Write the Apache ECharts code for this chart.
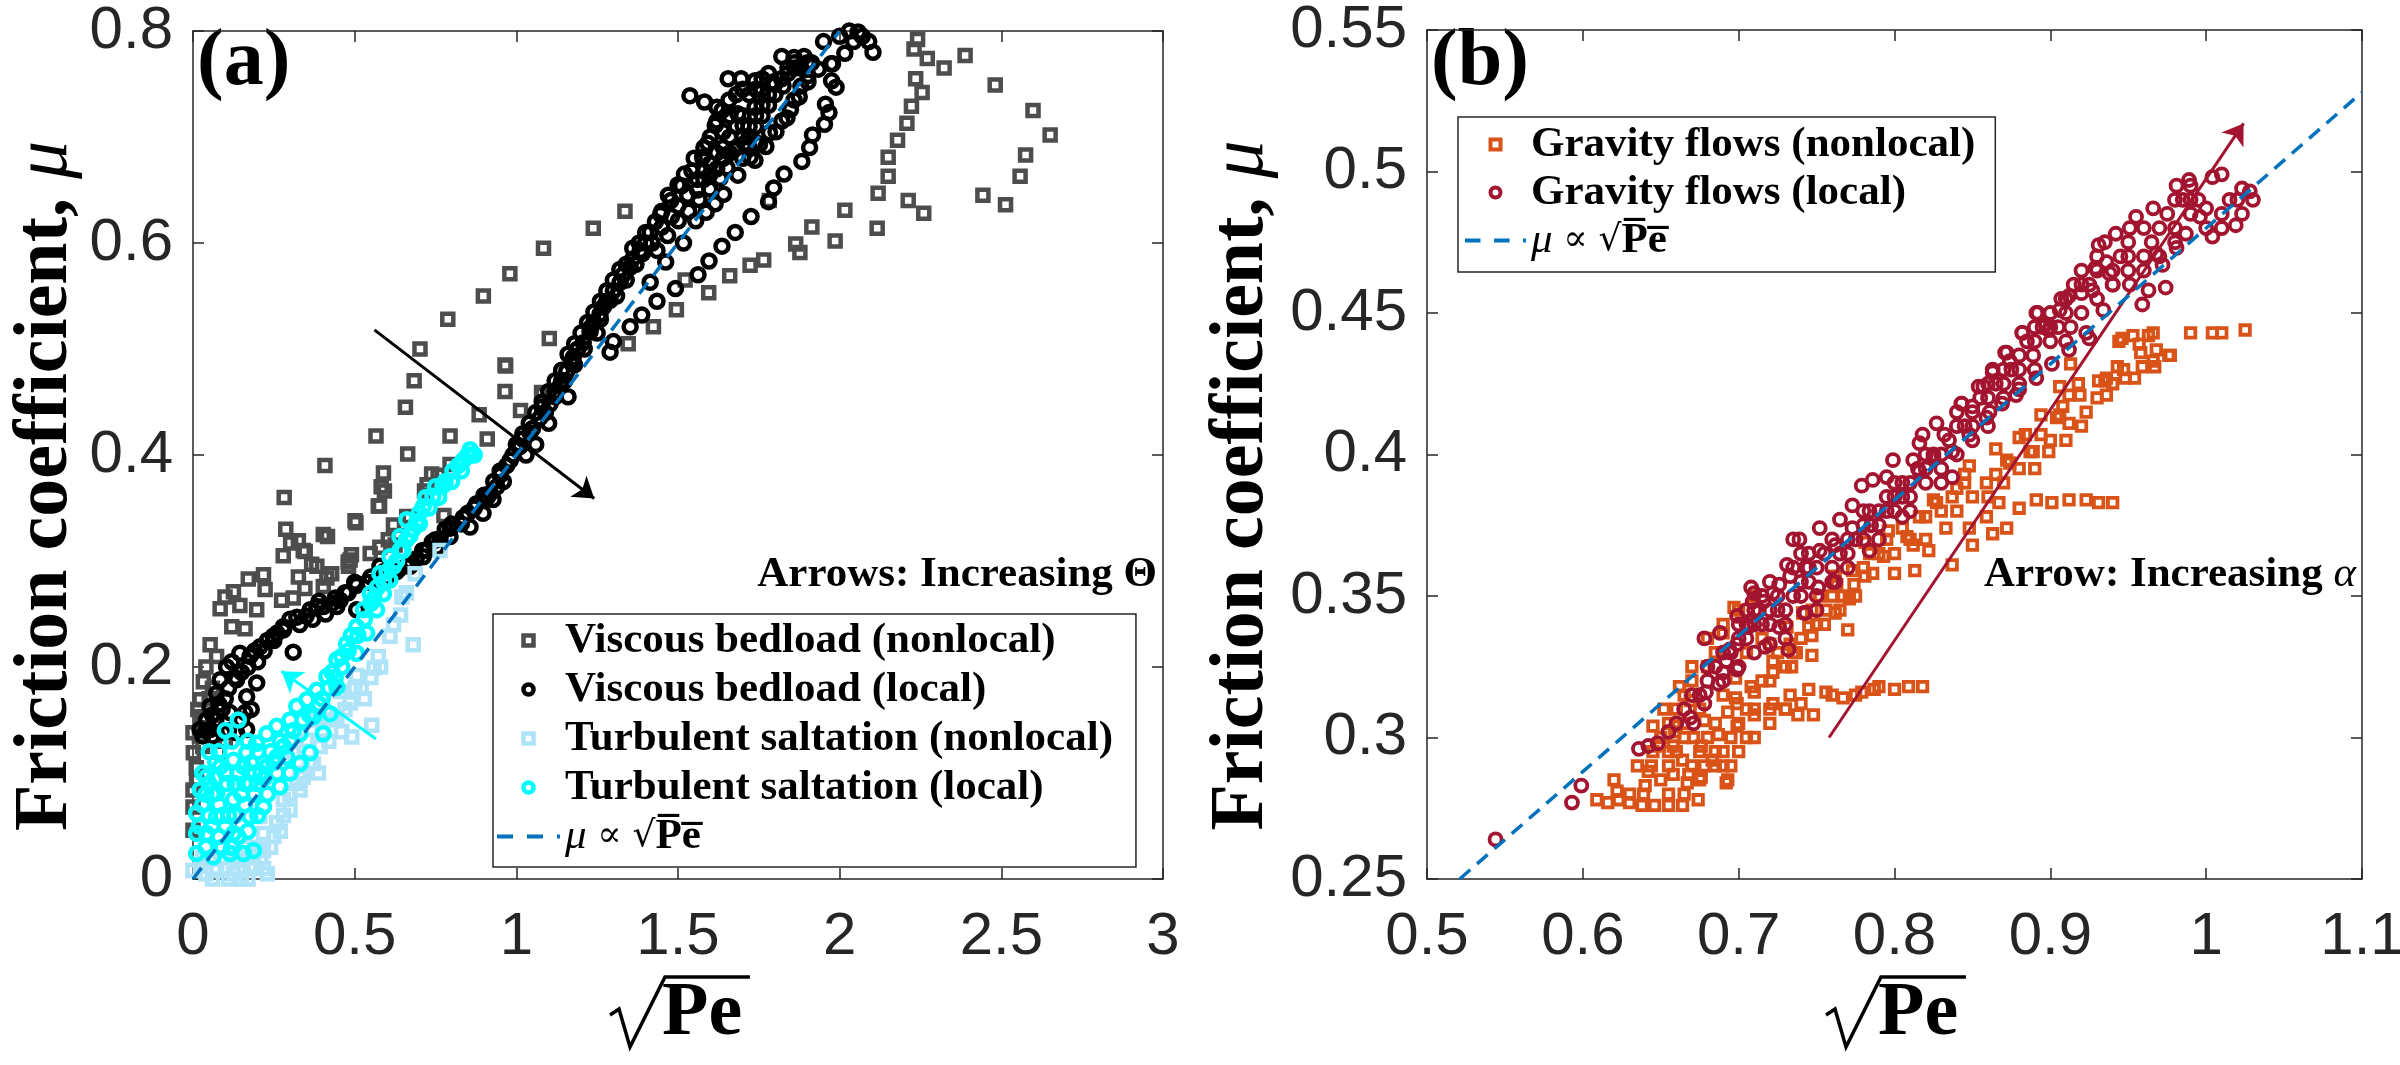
<!DOCTYPE html>
<html>
<head>
<meta charset="utf-8">
<title>Friction coefficient vs sqrt(Pe)</title>
<script src="https://cdn.jsdelivr.net/npm/echarts@6.0.0/dist/echarts.min.js"></script>
<style>
  html, body { margin: 0; padding: 0; background: #fff; }
  #chart { width: 2400px; height: 1065px; }
</style>
</head>
<body>
<div id="chart"></div>
<script>
// ---- panel (a): viscous bedload / turbulent saltation ----
var vbNonlocal = [
  [1.336,0.630],[1.238,0.614],[1.084,0.595],[0.980,0.571],[0.898,0.550],[0.788,0.528],[0.702,0.500],[0.684,0.470],
  [0.657,0.445],[0.566,0.418],[0.664,0.401],[0.589,0.383],[0.592,0.366],[0.573,0.352],[0.408,0.390],[0.282,0.360],
  [0.287,0.330],[0.326,0.319],[0.403,0.325],[0.504,0.336],[1.102,0.510],[0.967,0.484],[0.965,0.460],[1.013,0.442],
  [0.885,0.438],[0.910,0.415],[0.795,0.418],[1.080,0.457],[1.346,0.505],[0.738,0.382],[0.724,0.372],[0.795,0.391],
  [0.620,0.334],[0.669,0.341],[0.625,0.315],
  [2.241,0.792],[2.230,0.783],[2.271,0.774],[2.323,0.765],[2.388,0.777],[2.481,0.749],[2.598,0.725],[2.651,0.702],
  [2.575,0.683],[2.558,0.663],[2.443,0.645],[2.513,0.636],[2.235,0.755],[2.255,0.742],[2.222,0.729],[2.208,0.713],
  [2.179,0.697],[2.150,0.681],[2.150,0.663],[2.119,0.647],[2.212,0.640],[2.260,0.628],[2.116,0.614],[2.016,0.631],
  [1.914,0.615],[1.986,0.602],[1.864,0.599],[1.877,0.591],[1.765,0.584],[1.723,0.579],[1.660,0.569],[1.595,0.553],
  [1.522,0.565],[1.495,0.537],[1.424,0.521],[1.782,0.640],
  [0.341,0.310],[0.279,0.305],[0.367,0.297],[0.326,0.285],[0.346,0.274],[0.310,0.265],[0.171,0.283],[0.218,0.287],
  [0.223,0.273],[0.125,0.271],[0.099,0.266],[0.084,0.255],[0.145,0.258],[0.197,0.254],[0.274,0.263],[0.120,0.238],
  [0.161,0.236],[0.053,0.221],[0.073,0.210],[0.032,0.186],[0.022,0.169],[0.027,0.153],[0.001,0.119],[0.000,0.084],
  [0.000,0.068],[0.000,0.046],[0.414,0.284],[0.429,0.288],[0.481,0.295],[0.486,0.301],[0.548,0.307],[0.578,0.313],
  [0.604,0.320],[0.661,0.342],[0.403,0.276],[0.383,0.295],[0.073,0.144],[0.000,0.138],[0.011,0.093],
  [0.501,0.338],[0.582,0.370],[0.577,0.352],[0.776,0.343],[0.634,0.324],[0.416,0.323],[0.302,0.317],
  [0.347,0.309],[0.480,0.299],[0.490,0.306],[0.716,0.366],[0.758,0.381],[0.965,0.485],[1.078,0.459],
  [0.010,0.105],[0.030,0.125],[0.050,0.170],[0.040,0.200],[0.060,0.180],[0.020,0.135],[0.015,0.160],[0.080,0.120],[0.100,0.130]
];
var vbLocal = [
  [2.057,0.799],[2.043,0.790],[2.103,0.780],[2.016,0.779],[1.978,0.769],[1.975,0.753],[1.989,0.747],[1.956,0.731],
  [1.967,0.723],[1.953,0.712],[1.916,0.702],[1.907,0.690],[1.883,0.677],[1.828,0.665],[1.796,0.652],[1.780,0.639],
  [1.726,0.625],[1.677,0.610],[1.636,0.597],[1.596,0.583],[1.562,0.570],[1.492,0.557],[1.435,0.545],[1.388,0.532],
  [1.352,0.521],[1.300,0.507],[1.290,0.497],
  [1.414,0.563],[1.462,0.582],[1.517,0.600],[1.555,0.621],[1.587,0.629],[1.615,0.637],[1.641,0.646],[1.685,0.664],
  [1.723,0.681],[1.752,0.693],[1.783,0.704],[1.821,0.715],[1.848,0.726],[1.875,0.738],[1.902,0.752],[1.934,0.764],[1.973,0.769],
  [1.414,0.610],[1.446,0.627],[1.478,0.640],[1.511,0.654],[1.543,0.668],[1.576,0.681],[1.592,0.694],[1.615,0.711],
  [1.636,0.725],[1.658,0.735],[1.685,0.722],[1.701,0.711],[1.738,0.728],[1.760,0.745],[1.793,0.752],[1.825,0.748],
  [1.738,0.753],[1.695,0.755],[1.655,0.755],[1.537,0.739],[1.582,0.733],[1.620,0.728],[1.821,0.776],[1.859,0.775],
  [1.890,0.776],[1.913,0.770],[1.902,0.758],[1.880,0.748],[1.859,0.735],[1.837,0.718],[1.803,0.705],[1.772,0.691],
  [1.738,0.678],[1.706,0.694],[1.673,0.688],[1.652,0.671],[1.630,0.661],[1.598,0.651],[1.565,0.641],[1.533,0.630],
  [1.501,0.621],[1.468,0.607],[1.435,0.593],
  [1.383,0.593],[1.352,0.577],[1.321,0.563],[1.290,0.546],[1.259,0.533],[1.228,0.516],[1.207,0.506],[1.176,0.492],
  [1.156,0.479],[1.135,0.465],[1.104,0.448],[1.073,0.435],[1.042,0.421],[1.011,0.408],[0.981,0.395],[0.950,0.381],
  [0.919,0.364],[0.877,0.354],[0.836,0.341],[0.795,0.331],[0.764,0.321],[0.723,0.310],[1.060,0.410],[1.160,0.455],
  [1.100,0.430],[1.030,0.400],[0.960,0.375],
  [1.300,0.555],[1.330,0.570],[1.360,0.585],[1.270,0.540],[1.240,0.525],[1.190,0.500],[1.150,0.470],[1.120,0.455],
  [1.090,0.440],[1.400,0.600],[1.250,0.515],[1.180,0.485],[0.990,0.400],[0.900,0.362],[0.850,0.345],[0.800,0.335],
  [0.740,0.318],[0.690,0.302],[0.640,0.293],[0.600,0.285],[0.550,0.285],[0.500,0.280],[0.470,0.270],[0.430,0.260],
  [0.390,0.262],[0.350,0.248],[0.300,0.245],[0.260,0.232],[0.230,0.225],[0.190,0.215],[0.120,0.205],[0.090,0.160],[0.070,0.150],
  [0.928,0.358],[0.897,0.345],[0.857,0.332],[0.795,0.323],[0.754,0.313],[0.712,0.304],[0.671,0.295],[0.619,0.289],
  [0.568,0.282],[0.506,0.277],[0.455,0.263],[0.403,0.257],[0.362,0.254],[0.321,0.247],[0.279,0.238],[0.248,0.229],
  [0.207,0.219],[0.176,0.210],[0.145,0.213],[0.104,0.200],[0.084,0.188],[0.073,0.175],[0.053,0.163],[0.042,0.150],
  [0.022,0.141],[0.053,0.141],[0.093,0.138],[0.135,0.138],[0.166,0.141],[0.161,0.157],[0.114,0.157],[0.197,0.185],
  [0.166,0.172],[0.135,0.188],[0.310,0.214],[0.383,0.257],[0.445,0.257],[0.506,0.254],[0.578,0.295],
  [1.020,0.415],[1.050,0.425],[1.080,0.445],[1.120,0.460],[1.140,0.470],[1.170,0.487],[1.210,0.500],[1.230,0.520],
  [1.260,0.528],[1.280,0.545],[1.310,0.550],[1.340,0.565],[1.370,0.580],[1.390,0.590],[1.420,0.600],[1.450,0.615],
  [1.480,0.625],[1.500,0.635],[1.530,0.645],[1.560,0.660],[1.580,0.668],[1.600,0.675],[1.620,0.685],[1.640,0.690],
  [1.660,0.700],[1.680,0.710],[1.700,0.720],[1.720,0.700],[1.740,0.710],[1.760,0.720],[1.780,0.730],[1.800,0.740],
  [1.840,0.760],[1.860,0.765],[1.950,0.790],[2.000,0.795],[2.030,0.800],[2.070,0.795],[2.090,0.790],
  [0.940,0.370],[0.910,0.360],[0.870,0.350],[0.830,0.335],[0.780,0.330],[0.750,0.320],[0.710,0.310],[0.670,0.300],
  [0.630,0.290],[0.590,0.290],[0.540,0.280],[0.480,0.270],[0.440,0.265],[0.410,0.250],[0.370,0.245],[0.330,0.240],
  [0.280,0.235],[0.250,0.225],[0.220,0.215],[0.200,0.205],[0.170,0.200],[0.150,0.195],[0.130,0.190],[0.110,0.180],
  [0.100,0.170],[0.080,0.165],[0.060,0.155],[0.040,0.140],[0.030,0.135],[0.060,0.135],[0.110,0.140],[0.150,0.150],[0.180,0.160],
  [1.560,0.650],[1.580,0.660],[1.600,0.665],[1.620,0.670],[1.640,0.680],[1.660,0.685],[1.680,0.690],[1.700,0.700],
  [1.720,0.710],[1.740,0.720],[1.760,0.730],[1.780,0.740],[1.800,0.750],[1.820,0.755],[1.840,0.765],[1.860,0.770],
  [1.880,0.765],[1.900,0.770],[1.600,0.700],[1.620,0.715],[1.640,0.705],[1.660,0.720],[1.680,0.740],[1.700,0.745],
  [1.720,0.740],[1.740,0.745],[1.760,0.755],[1.780,0.760],[1.700,0.680],[1.720,0.690],[1.740,0.695],[1.580,0.690],
  [1.550,0.680],[1.520,0.665],[1.500,0.655],[1.470,0.645],[1.450,0.630],[1.430,0.620],[1.400,0.610],[1.380,0.600],
  [1.360,0.595],[1.340,0.580],[1.320,0.575],[1.300,0.565],[1.280,0.555],[1.260,0.545],[1.240,0.535],[1.220,0.525],
  [1.200,0.515],[1.180,0.505],[1.160,0.495],[1.140,0.480],[1.120,0.470],[1.100,0.460],[1.080,0.450],[1.060,0.440],
  [1.040,0.430],[1.020,0.420],[1.000,0.410],[0.970,0.390],[0.950,0.385],[0.930,0.375]
];
var tsNonlocal = [
  [0.764,0.310],[0.687,0.288],[0.646,0.266],[0.642,0.249],[0.609,0.229],[0.681,0.221],[0.573,0.210],[0.560,0.199],
  [0.506,0.192],[0.501,0.180],[0.455,0.177],[0.486,0.166],[0.445,0.153],[0.553,0.145],[0.460,0.139],[0.491,0.134],
  [0.383,0.150],[0.393,0.125],[0.372,0.109],[0.388,0.100],[0.331,0.084],[0.300,0.065],[0.259,0.053],[0.218,0.043],
  [0.218,0.027],[0.218,0.010],[0.176,0.012],[0.125,0.005],[0.073,0.008],[0.022,0.012],[0.000,0.008],[0.145,0.018],
  [0.187,0.024],[0.207,0.059],[0.279,0.075],[0.341,0.096],[0.310,0.119],[0.352,0.131],[0.050,0.020],[0.100,0.010],
  [0.150,0.000],[0.200,0.030],[0.230,0.005],[0.250,0.040],[0.280,0.060],[0.160,0.030],[0.120,0.025],[0.040,0.005],
  [0.330,0.100],[0.420,0.130],[0.530,0.170],[0.580,0.200],
  [0.060,0.000],[0.090,0.020],[0.110,0.000],[0.130,0.020],[0.170,0.000],[0.190,0.010],[0.210,0.020],[0.030,0.020],
  [0.240,0.030],[0.270,0.045],[0.300,0.080],[0.320,0.090],[0.360,0.110],[0.400,0.140],[0.430,0.150],[0.470,0.160],
  [0.520,0.180],[0.550,0.190],[0.620,0.240],[0.660,0.270]
];
var tsLocal = [
  [0.857,0.405],[0.836,0.395],[0.804,0.385],[0.773,0.371],[0.742,0.361],[0.712,0.351],[0.692,0.337],[0.671,0.324],
  [0.650,0.310],[0.661,0.339],[0.640,0.323],[0.609,0.304],[0.578,0.288],[0.548,0.269],[0.527,0.254],[0.506,0.238],
  [0.475,0.222],[0.445,0.207],[0.414,0.191],[0.383,0.178],[0.352,0.169],[0.321,0.163],[0.300,0.150],[0.259,0.144],
  [0.228,0.137],[0.197,0.128],[0.166,0.119],[0.125,0.112],[0.084,0.106],[0.042,0.096],[0.022,0.084],[0.011,0.062],
  [0.011,0.043],[0.011,0.024],[0.063,0.021],[0.114,0.024],[0.156,0.024],[0.187,0.027],[0.218,0.068],[0.269,0.087],
  [0.300,0.100],[0.331,0.109],[0.362,0.119],[0.403,0.137],[0.424,0.156],[0.445,0.181],[0.506,0.213],[0.537,0.232],
  [0.568,0.254],[0.589,0.269],[0.609,0.282],[0.073,0.059],[0.125,0.075],[0.176,0.090],[0.125,0.043],[0.073,0.081],
  [0.176,0.059],[0.042,0.043],[0.228,0.106],[0.156,0.106],[0.104,0.090],[0.259,0.115],[0.331,0.137],[0.372,0.153],
  [0.300,0.131],[0.700,0.345],[0.720,0.360],[0.750,0.370],[0.780,0.375],[0.820,0.390],[0.850,0.400],[0.870,0.400],
  [0.630,0.300],[0.600,0.290],[0.550,0.260],[0.490,0.230],[0.460,0.210],[0.430,0.195],[0.400,0.170],[0.050,0.120],
  [0.100,0.140],[0.140,0.150],[0.080,0.120],[0.030,0.070],[0.060,0.050],[0.090,0.030],[0.200,0.090],[0.240,0.120],[0.270,0.130],
  [0.860,0.400],[0.830,0.385],[0.800,0.375],[0.760,0.360],[0.730,0.350],[0.700,0.335],[0.680,0.330],[0.660,0.320],
  [0.640,0.310],[0.620,0.295],[0.590,0.280],[0.570,0.275],[0.560,0.265],[0.530,0.245],[0.510,0.230],[0.480,0.215],
  [0.460,0.200],[0.440,0.190],[0.420,0.180],[0.390,0.165],[0.360,0.155],[0.340,0.150],[0.310,0.140],[0.280,0.125],
  [0.250,0.110],[0.220,0.095],[0.190,0.080],[0.160,0.070],[0.130,0.060],[0.100,0.050],[0.080,0.070],[0.050,0.090],
  [0.030,0.100],[0.020,0.050],[0.040,0.030],[0.140,0.040],[0.170,0.045],[0.200,0.060],[0.230,0.080],[0.260,0.100],
  [0.290,0.115],[0.200,0.120],[0.170,0.130],[0.120,0.130],[0.070,0.110],[0.100,0.100],[0.130,0.090],[0.150,0.080],
  [0.060,0.080],[0.090,0.060],[0.120,0.030],
  [0.050,0.060],[0.080,0.040],[0.110,0.060],[0.140,0.100],[0.180,0.110],[0.210,0.100],[0.040,0.080],[0.070,0.095],
  [0.160,0.090],[0.190,0.100]
];
var fitAX = [0, 2];
var fitAY = [0, 0.8];
var arrowTheta = [[0.561,0.518],[1.241,0.359]];
var arrowThetaTurb = [[0.566,0.132],[0.274,0.196]];

// ---- panel (b): gravity flows ----
var gfNonlocal = [
  [0.609,0.278],[0.616,0.277],[0.623,0.278],[0.630,0.277],[0.638,0.276],[0.646,0.276],[0.655,0.276],[0.664,0.276],
  [0.674,0.278],[0.622,0.281],[0.642,0.288],[0.645,0.304],[0.652,0.310],[0.662,0.318],[0.697,0.346],[0.690,0.337],
  [0.690,0.290],[0.692,0.284],[0.748,0.308],[0.738,0.308],[0.747,0.329],[0.734,0.325],[0.800,0.317],[0.809,0.318],
  [0.818,0.318],[0.787,0.317],[0.779,0.316],[0.767,0.314],[0.756,0.316],[0.745,0.317],[0.733,0.315],[0.722,0.312],
  [0.710,0.308],[0.699,0.304],[0.687,0.301],[0.676,0.297],[0.664,0.292],[0.658,0.287],[0.667,0.284],[0.676,0.286],
  [0.683,0.292],[0.671,0.300],[0.660,0.304],[0.660,0.310],[0.669,0.313],[0.658,0.297],[0.699,0.312],[0.710,0.316],
  [0.722,0.327],[0.733,0.333],[0.745,0.339],[0.756,0.345],[0.767,0.350],[0.774,0.354],[0.786,0.358],[0.800,0.358],
  [0.813,0.359],[0.770,0.338],[0.837,0.361],[0.850,0.368],[0.863,0.372],[0.872,0.374],[0.867,0.383],[0.880,0.381],
  [0.891,0.384],[0.901,0.383],[0.912,0.384],[0.923,0.384],[0.931,0.383],[0.940,0.383],[0.889,0.401],[0.899,0.401],
  [0.872,0.398],[0.859,0.390],[0.848,0.396],[0.837,0.385],[0.827,0.383],[0.816,0.378],[0.805,0.374],[0.795,0.370],
  [0.784,0.365],[0.773,0.359],[0.763,0.354],[0.752,0.350],[0.741,0.344],[0.731,0.339],[0.936,0.427],[0.923,0.415],
  [0.912,0.411],[0.904,0.413],[0.919,0.421],[0.908,0.417],[0.880,0.406],[0.848,0.374],[0.833,0.374],[0.822,0.366],
  [0.812,0.368],[0.859,0.378],
  [0.990,0.443],[1.004,0.443],[1.010,0.443],[1.025,0.444],[0.966,0.443],[0.953,0.442],[0.944,0.440],[0.957,0.439],
  [0.968,0.437],[0.976,0.435],[0.966,0.433],[0.959,0.431],[0.947,0.430],[0.954,0.427],[0.935,0.426],[0.918,0.425],
  [0.912,0.421],[0.906,0.424],[0.913,0.432],[0.906,0.414],[0.894,0.407],[0.887,0.401],[0.874,0.397],[0.865,0.393],
  [0.845,0.393],[0.840,0.388],[0.825,0.384],[0.808,0.371],[0.793,0.364],[0.781,0.357],[0.771,0.349],[0.762,0.344],
  [0.747,0.336],[0.737,0.330],[0.722,0.323],[0.708,0.318],[0.698,0.314],[0.693,0.309],[0.678,0.306],[0.659,0.302],
  [0.649,0.297],[0.644,0.290],[0.639,0.280],[0.668,0.287],[0.678,0.290],[0.693,0.285],[0.698,0.321],[0.720,0.333],
  [0.747,0.345],[0.762,0.357],[0.781,0.369],[0.796,0.373],[0.820,0.378],[0.845,0.390],[0.865,0.402],[0.884,0.407],
  [0.894,0.414],[0.931,0.426],[0.943,0.431],[0.958,0.436],[0.967,0.431],[0.977,0.435],[0.963,0.442],[0.946,0.441],
  [0.948,0.427],[0.936,0.421],[0.680,0.325],[0.685,0.330],[0.670,0.320],[0.705,0.330],[0.715,0.335],[0.655,0.295],
  [0.665,0.300],[0.685,0.295],[0.705,0.300],[0.720,0.305],[0.730,0.310],[0.675,0.310],[0.690,0.315],
  [0.650,0.285],[0.655,0.290],[0.660,0.295],[0.665,0.305],[0.670,0.290],[0.675,0.295],[0.680,0.300],[0.685,0.305],
  [0.690,0.295],[0.695,0.300],[0.700,0.305],[0.705,0.310],[0.710,0.310],[0.715,0.320],[0.720,0.320],[0.725,0.330],
  [0.730,0.325],[0.735,0.330],[0.740,0.335],[0.750,0.340],[0.755,0.340],[0.760,0.350],[0.765,0.345],[0.775,0.350],
  [0.780,0.360],[0.790,0.365],[0.800,0.365],[0.810,0.370],[0.820,0.370],[0.830,0.380],[0.840,0.380],[0.850,0.385],
  [0.860,0.385],[0.870,0.390],[0.880,0.395],[0.890,0.395],[0.900,0.405],[0.910,0.405],[0.920,0.410],[0.930,0.420],
  [0.940,0.425],[0.655,0.280],[0.665,0.280],[0.675,0.285],[0.685,0.290],[0.695,0.290],[0.700,0.295],[0.710,0.300],
  [0.720,0.310],[0.730,0.310],[0.740,0.312],[0.760,0.315],[0.775,0.315],[0.790,0.318],[0.640,0.283],[0.630,0.280],
  [0.620,0.285],[0.635,0.290],[0.645,0.295],[0.650,0.300],[0.655,0.305],[0.665,0.315],[0.670,0.325],[0.680,0.335],
  [0.690,0.340],[0.700,0.345],[0.710,0.350]
];
var gfLocal = [
  [0.544,0.264],[0.593,0.277],[0.599,0.283],[0.636,0.296],[0.642,0.297],[0.648,0.298],[0.655,0.302],[0.669,0.307],
  [0.671,0.305],[0.678,0.312],[0.679,0.316],[0.687,0.319],[0.678,0.335],[0.708,0.353],[0.732,0.331],[0.742,0.344],
  [0.692,0.327],[0.699,0.333],[0.706,0.339],[0.713,0.345],[0.722,0.351],[0.733,0.357],[0.745,0.360],[0.699,0.324],
  [0.690,0.323],[0.717,0.332],[0.726,0.339],[0.710,0.351],[0.751,0.353],
  [0.735,0.370],[0.739,0.370],[0.765,0.377],[0.779,0.389],[0.786,0.391],[0.795,0.392],[0.812,0.398],[0.818,0.407],
  [0.832,0.407],[0.843,0.418],[0.857,0.424],[0.863,0.429],[0.871,0.436],[0.882,0.443],[0.892,0.450],[0.907,0.455],
  [0.912,0.456],[0.688,0.337],[0.699,0.343],[0.716,0.348],[0.726,0.354],[0.743,0.360],[0.752,0.366],[0.762,0.368],
  [0.773,0.374],[0.784,0.380],[0.795,0.385],[0.805,0.390],[0.816,0.394],[0.825,0.399],[0.837,0.401],[0.848,0.407],
  [0.859,0.413],[0.869,0.418],[0.880,0.423],[0.891,0.427],[0.901,0.432],[0.912,0.437],[0.923,0.443],[0.934,0.451],
  [0.940,0.460],[0.927,0.458],[0.897,0.446],[0.874,0.433],[0.850,0.417],[0.827,0.411],[0.816,0.404],[0.799,0.398],
  [0.773,0.382],[0.752,0.374],[0.731,0.361],[0.709,0.348],[0.694,0.331],[0.705,0.340],[0.720,0.333],[0.743,0.344],
  [0.762,0.355],[0.784,0.366],[0.805,0.378],[0.837,0.392],
  [1.023,0.494],[1.028,0.493],[1.010,0.499],[1.004,0.498],[0.989,0.497],[0.981,0.495],[1.023,0.485],[1.019,0.481],
  [1.004,0.477],[1.010,0.480],[0.996,0.484],[0.987,0.478],[0.981,0.473],[0.972,0.467],[0.974,0.459],[0.963,0.458],
  [0.959,0.453],[0.966,0.487],[0.955,0.484],[0.951,0.480],[0.942,0.478],[0.931,0.474],[0.936,0.468],[0.929,0.466],
  [0.925,0.460],[0.920,0.457],[0.910,0.455],[0.906,0.451],[0.891,0.450],[0.899,0.444],[0.882,0.443],[0.872,0.436],
  [0.863,0.430],[0.854,0.424],[0.843,0.418],[0.951,0.460],[0.938,0.464],[0.968,0.471],[0.985,0.490],[1.000,0.487],
  [0.913,0.445],[0.925,0.441],[0.889,0.435],[0.878,0.421],[0.861,0.415],
  [0.660,0.305],[0.665,0.310],[0.675,0.315],[0.680,0.320],[0.685,0.325],[0.695,0.330],[0.700,0.335],[0.705,0.345],
  [0.710,0.340],[0.715,0.340],[0.720,0.345],[0.725,0.350],[0.730,0.345],[0.735,0.350],[0.740,0.355],[0.745,0.355],
  [0.750,0.360],[0.755,0.365],[0.760,0.360],[0.765,0.365],[0.770,0.370],[0.775,0.370],[0.780,0.375],[0.785,0.375],
  [0.790,0.380],[0.795,0.380],[0.800,0.385],[0.805,0.385],[0.810,0.390],[0.815,0.395],[0.820,0.395],[0.825,0.400],
  [0.830,0.400],[0.835,0.405],[0.840,0.410],[0.845,0.410],[0.850,0.415],[0.855,0.420],[0.860,0.420],[0.865,0.425],
  [0.870,0.430],[0.875,0.430],[0.880,0.435],[0.885,0.440],[0.890,0.440],[0.895,0.445],[0.900,0.450],[0.905,0.445],
  [0.910,0.450],[0.915,0.460],[0.920,0.465],[0.930,0.470],[0.935,0.475],[0.945,0.470],[0.950,0.475],[0.960,0.480],
  [0.965,0.475],[0.975,0.485],[0.980,0.490],[0.990,0.490],[0.995,0.490],[1.015,0.490],[1.020,0.490],[1.030,0.490],
  [0.700,0.325],[0.720,0.340],[0.740,0.350],[0.760,0.355],[0.780,0.370],[0.800,0.380],[0.820,0.390],[0.840,0.400],
  [0.860,0.410],[0.880,0.425],[0.900,0.440],[0.920,0.450],[0.940,0.460],[0.960,0.465],[0.980,0.480],[0.690,0.320],
  [0.670,0.315],[0.710,0.330],[0.730,0.340],[0.750,0.345],[0.770,0.360],[0.790,0.370],[0.810,0.380],[0.830,0.390],
  [0.850,0.405],[0.870,0.420],[0.890,0.430],[0.910,0.440],[0.930,0.455],[0.950,0.465],[0.970,0.470],[0.990,0.485],[1.010,0.485],
  [0.720,0.355],[0.740,0.365],[0.760,0.370],[0.780,0.380],[0.800,0.390],[0.820,0.400],[0.840,0.415],[0.860,0.425],
  [0.880,0.430],[0.900,0.445],[0.920,0.460],[0.940,0.465],[0.960,0.470],[0.980,0.475],[1.000,0.480],[0.710,0.345],
  [0.730,0.335],[0.750,0.350],[0.770,0.365],[0.790,0.375],[0.810,0.385],[0.830,0.395],[0.850,0.410],[0.870,0.425],
  [0.890,0.445],[0.910,0.455],[0.930,0.465],[0.950,0.470],[0.970,0.480],[0.990,0.495],[0.680,0.325],[0.690,0.330],
  [0.700,0.340],[0.705,0.335],[0.715,0.350],[0.725,0.345],[0.735,0.360],[0.745,0.365]
];
var fitBX = [0.521, 1.1];
var fitBY = [0.25, 0.528];
var arrowAlpha = [[0.758,0.300],[1.024,0.517]];

var ticksA = { xMin: 0, xMax: 3, xStep: 0.5, yMin: 0, yMax: 0.8, yStep: 0.2 };
var ticksB = { xMin: 0.5, xMax: 1.1, xStep: 0.1, yMin: 0.25, yMax: 0.55, yStep: 0.05 };

function pairs(xs, ys) {
  return xs.map(function (x, i) { return [x, ys[i]]; });
}

var AX = '#262626';
var SERIF = 'Liberation Serif';

function xAxisOf(grid, t, pos) {
  return {
    type: 'value', gridIndex: grid, position: pos,
    min: t.xMin, max: t.xMax, interval: t.xStep,
    axisLine: { show: true, onZero: false, lineStyle: { color: AX, width: 1.5 } },
    axisTick: { show: true, inside: true, length: 11, lineStyle: { color: AX, width: 1.5 } },
    axisLabel: { show: pos === 'bottom', margin: 28, fontFamily: 'Liberation Sans', fontSize: 60, color: AX,
                 showMinLabel: true, showMaxLabel: true },
    splitLine: { show: false }
  };
}
function yAxisOf(grid, t, pos, gap) {
  var ax = {
    type: 'value', gridIndex: grid, position: pos,
    min: t.yMin, max: t.yMax, interval: t.yStep,
    axisLine: { show: true, onZero: false, lineStyle: { color: AX, width: 1.5 } },
    axisTick: { show: true, inside: true, length: 11, lineStyle: { color: AX, width: 1.5 } },
    axisLabel: { show: pos === 'left', margin: 20, fontFamily: 'Liberation Sans', fontSize: 60, color: AX,
                 showMinLabel: true, showMaxLabel: true },
    splitLine: { show: false }
  };
  if (pos === 'left') {
    ax.name = '{b|Friction coefficient, }{i|μ}';
    ax.nameLocation = 'middle';
    ax.nameRotate = 90;
    ax.nameGap = gap;
    ax.nameTextStyle = {
      fontSize: 76, fontFamily: SERIF, fontWeight: 'bold', color: '#000',
      padding: [0, 62, 0, 0],
      rich: {
        b: { fontSize: 76, fontFamily: SERIF, fontWeight: 'bold', color: '#000' },
        i: { fontSize: 76, fontFamily: SERIF, fontStyle: 'italic', fontWeight: 'normal', color: '#000' }
      }
    };
  }
  return ax;
}

// hollow MATLAB-like markers with a heavy stroke
function scatter(name, data, xi, symbol, size, color, bw) {
  return {
    name: name, type: 'scatter', xAxisIndex: xi, yAxisIndex: xi,
    symbol: symbol, symbolSize: size, data: data, silent: true,
    itemStyle: { color: 'rgba(0,0,0,0)', borderColor: color, borderWidth: bw, opacity: 1 }
  };
}
function arrow(coords, xi, color) {
  return {
    type: 'lines', coordinateSystem: 'cartesian2d', xAxisIndex: xi, yAxisIndex: xi,
    symbol: ['none', 'arrow'], symbolSize: 20, silent: true, z: 5,
    lineStyle: { color: color, width: 3, opacity: 1, curveness: 0 },
    data: [{ coords: coords }]
  };
}
function fitLine(name, data, xi) {
  return {
    name: name, type: 'line', xAxisIndex: xi, yAxisIndex: xi, data: data,
    symbol: 'none', silent: true, z: 6,
    lineStyle: { color: '#0072bd', width: 3.5, type: [14, 9] }
  };
}

var SQ = 'path://M0,0H10V10H0Z';
var DASH = 'path://M0,0H16V4H0Z M30,0H46V4H30Z M60,0H63V4H60Z';
function legendItem(name, icon, color, bw) {
  return { name: name, icon: icon,
           itemStyle: { color: 'rgba(0,0,0,0)', borderColor: color, borderWidth: bw } };
}
function legendFit(name) {
  return { name: name, icon: DASH, itemStyle: { color: '#0072bd', borderWidth: 0 } };
}
var legendRich = {
  i: { fontFamily: SERIF, fontStyle: 'italic', fontWeight: 'normal', fontSize: 43, lineHeight: 40 },
  m: { fontFamily: 'DejaVu Serif', fontWeight: 'normal', fontSize: 36, lineHeight: 40 },
  p: { fontFamily: SERIF, fontWeight: 'bold', fontSize: 43, lineHeight: 40 }
};
function legendLabel(name) {
  return name.indexOf('fit') === 0 ? '{i|μ} {m|∝} {m|√}{p|P\u0305e\u0305}' : name;
}
function legendOf(left, top, itemWidth, gap, padding, data) {
  return {
    orient: 'vertical', left: left, top: top, itemWidth: itemWidth, itemHeight: 10, itemGap: gap,
    padding: padding, borderColor: AX, borderWidth: 1.5, backgroundColor: '#fff',
    selectedMode: false, formatter: legendLabel,
    textStyle: { fontFamily: SERIF, fontWeight: 'bold', fontSize: 43, color: '#000', lineHeight: 40, rich: legendRich },
    data: data
  };
}

function sqrtPeTitle(cx) {
  return [
    { type: 'polyline', silent: true,
      shape: { points: [[cx - 68, 1015], [cx - 59, 1009], [cx - 48, 1047], [cx - 13, 977], [cx + 72, 977]] },
      style: { stroke: '#000', lineWidth: 3.5, fill: 'none' } },
    { type: 'text', x: cx - 16, y: 1014, silent: true,
      style: { text: 'Pe', fontFamily: SERIF, fontWeight: 'bold', fontSize: 76, fill: '#000',
               align: 'left', verticalAlign: 'middle' } }
  ];
}

var chart = echarts.init(document.getElementById('chart'), null, { renderer: 'canvas' });

var option = {
  animation: false,
  backgroundColor: '#fff',
  grid: [
    { left: 193, top: 31, width: 970, height: 848, outerBoundsMode: 'none' },
    { left: 1427, top: 30, width: 935, height: 849, outerBoundsMode: 'none' }
  ],
  xAxis: [xAxisOf(0, ticksA, 'bottom'), xAxisOf(0, ticksA, 'top'),
          xAxisOf(1, ticksB, 'bottom'), xAxisOf(1, ticksB, 'top')],
  yAxis: [yAxisOf(0, ticksA, 'left', 109), yAxisOf(0, ticksA, 'right'),
          yAxisOf(1, ticksB, 'left', 147), yAxisOf(1, ticksB, 'right')],
  legend: [
    legendOf(493, 614, 63, 6, [5, 23, 9, 4], [
      legendItem('Viscous bedload (nonlocal)', SQ, '#4d4d4d', 4.5),
      legendItem('Viscous bedload (local)', 'circle', '#000000', 4.5),
      legendItem('Turbulent saltation (nonlocal)', SQ, '#aee3f8', 4.5),
      legendItem('Turbulent saltation (local)', 'circle', '#00ffff', 4.5),
      legendFit('fitA')
    ]),
    legendOf(1458, 117, 61, 5, [6, 20, 10, 7], [
      legendItem('Gravity flows (nonlocal)', SQ, '#d95319', 4),
      legendItem('Gravity flows (local)', 'circle', '#a2142f', 4),
      legendFit('fitB')
    ])
  ],
  series: [
    scatter('Viscous bedload (nonlocal)', vbNonlocal, 0, 'rect', 11, '#4d4d4d', 4.5),
    scatter('Viscous bedload (local)', vbLocal, 0, 'circle', 13, '#000000', 4.5),
    scatter('Turbulent saltation (nonlocal)', tsNonlocal, 0, 'rect', 11, '#aee3f8', 4.5),
    scatter('Turbulent saltation (local)', tsLocal, 0, 'circle', 13, '#00ffff', 4.5),
    arrow(arrowTheta, 0, '#000000'),
    arrow(arrowThetaTurb, 0, '#00ffff'),
    fitLine('fitA', pairs(fitAX, fitAY), 0),
    scatter('Gravity flows (nonlocal)', gfNonlocal, 2, 'rect', 9.5, '#d95319', 3.8),
    scatter('Gravity flows (local)', gfLocal, 2, 'circle', 12, '#a2142f', 3.8),
    arrow(arrowAlpha, 2, '#a2142f'),
    fitLine('fitB', pairs(fitBX, fitBY), 2)
  ],
  graphic: [
    { type: 'text', x: 197, y: 63, silent: true,
      style: { text: '(a)', fontFamily: SERIF, fontWeight: 'bold', fontSize: 80, fill: '#000', verticalAlign: 'middle' } },
    { type: 'text', x: 1431, y: 63, silent: true,
      style: { text: '(b)', fontFamily: SERIF, fontWeight: 'bold', fontSize: 80, fill: '#000', verticalAlign: 'middle' } },
    { type: 'text', x: 1157, y: 575, silent: true,
      style: { text: 'Arrows: Increasing Θ', fontFamily: SERIF, fontWeight: 'bold', fontSize: 43, fill: '#000',
               align: 'right', verticalAlign: 'middle' } },
    { type: 'text', x: 2356, y: 575, silent: true,
      style: { text: '{b|Arrow: Increasing }{i|α}', align: 'right', verticalAlign: 'middle',
               rich: { b: { fontFamily: SERIF, fontWeight: 'bold', fontSize: 43, fill: '#000' },
                       i: { fontFamily: SERIF, fontStyle: 'italic', fontSize: 43, fill: '#000' } } } }
  ].concat(sqrtPeTitle(678), sqrtPeTitle(1894))
};

chart.setOption(option);
</script>
</body>
</html>
